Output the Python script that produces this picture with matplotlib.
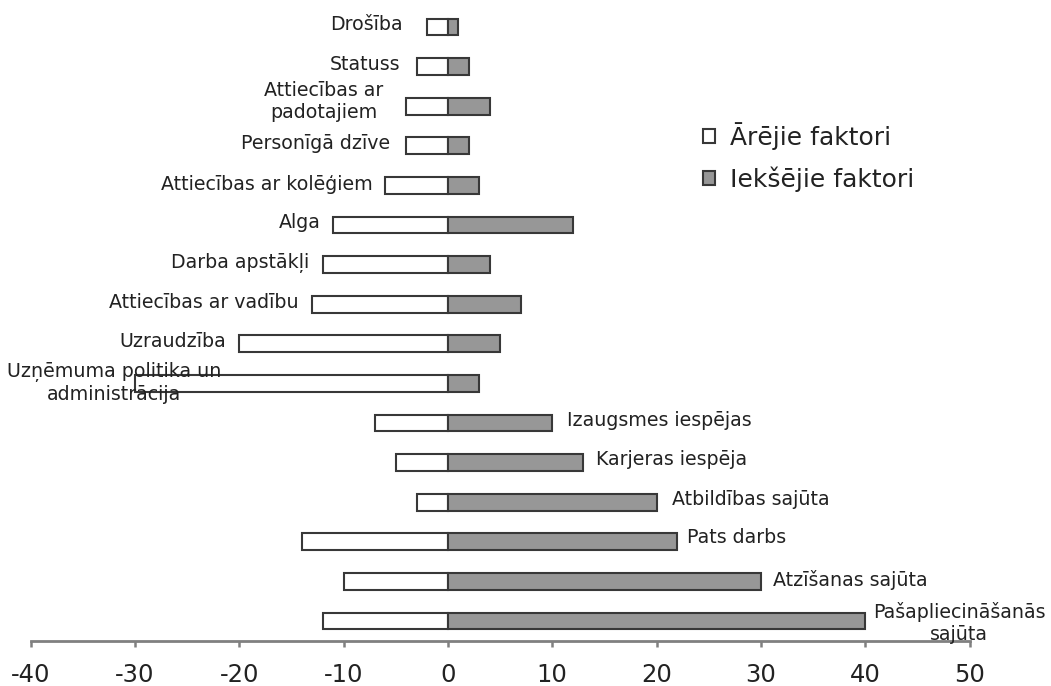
import matplotlib
matplotlib.use("Agg")
import matplotlib.pyplot as plt

# ---- data ----
categories = [
    "Drošība",
    "Statuss",
    "Attiecības ar\npadotajiem",
    "Personīgā dzīve",
    "Attiecības ar kolēģiem",
    "Alga",
    "Darba apstākļi",
    "Attiecības ar vadību",
    "Uzraudzība",
    "Uzņēmuma politika un\nadministrācija",
    "Izaugsmes iespējas",
    "Karjeras iespēja",
    "Atbildības sajūta",
    "Pats darbs",
    "Atzīšanas sajūta",
    "Pašapliecināšanās\nsajūta",
]
external = [-2, -3, -4, -4, -6, -11, -12, -13, -20, -30, -7, -5, -3, -14, -10, -12]
internal = [1, 2, 4, 2, 3, 12, 4, 7, 5, 3, 10, 13, 20, 22, 30, 40]
series_names = ["Ārējie faktori", "Iekšējie faktori"]
xticks = [-40, -30, -20, -10, 0, 10, 20, 30, 40, 50]

# ---- label styling (side, dx px, dy px, ha) ----
label_style = [
    ("L", -24, 3, "right"),
    ("L", -16, 2, "right"),
    ("L", -23, 5, "right"),
    ("L", -16, 2, "right"),
    ("L", -12, 1, "right"),
    ("L", -12, 3, "right"),
    ("L", -13, 2, "right"),
    ("L", -14, 2, "right"),
    ("L", -13, 2, "right"),
    ("L", -21, 0, "center"),
    ("R", 15, 3, "left"),
    ("R", 13, 3, "left"),
    ("R", 15, 3, "left"),
    ("R", 10, 4, "left"),
    ("R", 12, 1, "left"),
    ("R", 8, -2, "left"),
]

W, H = 1051, 686
fig = plt.figure(figsize=(W / 100, H / 100), dpi=100)
ax = fig.add_axes([30.5 / W, 1 - 641 / H, (969.5 - 30.5) / W, 641 / H])

y = list(range(len(categories)))
edge = "#383838"
ax.barh(y, external, height=0.42, color="white", edgecolor=edge, linewidth=1.5,
        label=series_names[0], zorder=2)
ax.barh(y, internal, height=0.42, color="#979797", edgecolor=edge, linewidth=1.5,
        label=series_names[1], zorder=2)

ax.set_xlim(-40, 50)
ax.set_ylim(15.505, -0.682)

txt_color = "#222222"
for i, (cat, (side, dx, dy, ha)) in enumerate(zip(categories, label_style)):
    xv = external[i] if side == "L" else internal[i]
    ax.annotate(cat, xy=(xv, i), xytext=(dx, dy), textcoords="offset pixels",
                ha=ha, va="center", multialignment="center",
                fontsize=13.7, color=txt_color, annotation_clip=False, zorder=3)

for s in ["left", "top", "right"]:
    ax.spines[s].set_visible(False)
ax.spines["bottom"].set_color("#808080")
ax.spines["bottom"].set_linewidth(2)
ax.set_yticks([])
ax.set_xticks(xticks)
ax.set_xticklabels([str(t) for t in xticks])
ax.tick_params(axis="x", direction="out", length=4.5, width=1.8, color="#808080",
               labelsize=17.5, labelcolor=txt_color, pad=11)

leg = ax.legend(loc="upper left", bbox_to_anchor=(703 / W, 1 - 122 / H),
                bbox_transform=fig.transFigure, frameon=False, fontsize=18,
                handlelength=0.46, handleheight=0.46, handletextpad=0.62,
                labelspacing=0.66, borderpad=0, borderaxespad=0)
for t in leg.get_texts():
    t.set_color(txt_color)

fig.savefig("out.png", dpi=100)
